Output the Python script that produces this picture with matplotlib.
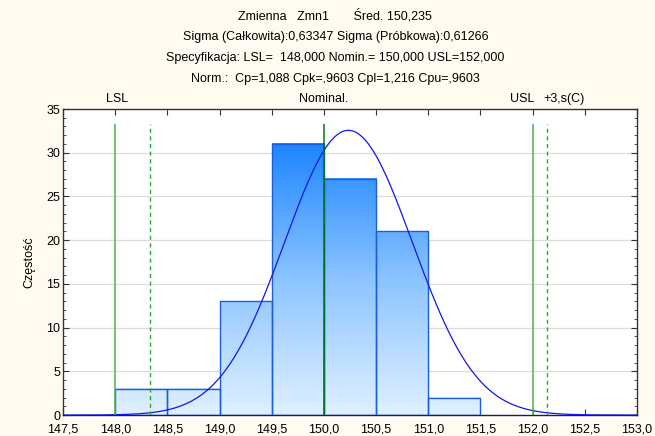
import numpy as np
import matplotlib
matplotlib.use("Agg")
import matplotlib.pyplot as plt
from matplotlib.colors import LinearSegmentedColormap
from matplotlib.ticker import MultipleLocator, FuncFormatter

plt.rcParams['font.family'] = ['Liberation Sans', 'DejaVu Sans']

# histogram data
bin_left = [148.0, 148.5, 149.0, 149.5, 150.0, 150.5, 151.0]
counts = [3, 3, 13, 31, 27, 21, 2]
bin_width = 0.5

# process statistics
mean = 150.235
sigma_total = 0.63347
sigma_sample = 0.61266
lsl, nominal, usl = 148.0, 150.0, 152.0
minus3s = mean - 3 * sigma_total
plus3s = mean + 3 * sigma_total

title_lines = [
    "Zmienna   Zmn1       Śred. 150,235",
    "Sigma (Całkowita):0,63347 Sigma (Próbkowa):0,61266",
    "Specyfikacja: LSL=  148,000 Nomin.= 150,000 USL=152,000",
    "Norm.:  Cp=1,088 Cpk=,9603 Cpl=1,216 Cpu=,9603",
]

bg = "#fffbf0"
fig = plt.figure(figsize=(6.55, 4.36), dpi=100, facecolor=bg)
ax = fig.add_axes([0.0962, 0.048, 0.8763, 0.702])
ax.set_facecolor("white")

xmin, xmax, ymin, ymax = 147.5, 153.0, 0, 35

# gradient bars
cmap = LinearSegmentedColormap.from_list("bars", ["#e0f0ff", "#8cc4ff", "#1e86ff"])
top = max(counts)
for x0, h in zip(bin_left, counts):
    grad = np.linspace(0, h, 200)[:, None]
    ax.imshow(grad, extent=(x0, x0 + bin_width, 0, h), origin="lower",
              cmap=cmap, vmin=0, vmax=top, aspect="auto", zorder=2,
              interpolation="bilinear")
ax.bar(bin_left, counts, width=bin_width, align="edge", facecolor="none",
       edgecolor="#1a5ed8", linewidth=1.0, zorder=3)

# normal curve
xs = np.linspace(xmin, xmax, 400)
ys = sum(counts) * bin_width / (sigma_sample * np.sqrt(2 * np.pi)) * \
    np.exp(-0.5 * ((xs - mean) / sigma_sample) ** 2)
ax.plot(xs, ys, color="#1414f0", linewidth=0.9, zorder=4)

# spec lines
line_top = 0.95 * ymax
ax.vlines([lsl, usl], 0, line_top, colors="#4cb04c", linewidth=1.1, zorder=5)
ax.vlines([nominal], 0, line_top, colors="#007a00", linewidth=1.1, zorder=5)
ax.vlines([minus3s, plus3s], 0, line_top, colors="#2ea82e", linewidth=1.0,
          linestyles=(0, (3, 2.5)), zorder=5)

ax.set_xlim(xmin, xmax)
ax.set_ylim(ymin, ymax)
ax.yaxis.set_major_locator(MultipleLocator(5))
ax.yaxis.set_minor_locator(MultipleLocator(1))
ax.xaxis.set_major_locator(MultipleLocator(0.5))
ax.xaxis.set_major_formatter(FuncFormatter(lambda v, p: f"{v:.1f}".replace(".", ",")))
ax.grid(axis="y", color="#dcdcdc", linewidth=0.9, zorder=0)
ax.set_axisbelow(True)
ax.tick_params(which="both", direction="in", top=True, right=True,
               labelsize=9, pad=2, color="#333333")
ax.tick_params(axis="x", pad=6)
ax.tick_params(which="major", length=4)
ax.tick_params(which="minor", length=2.5)
for s in ax.spines.values():
    s.set_color("#333333")
    s.set_linewidth(1.0)
ax.spines["bottom"].set_color("#1a1a60")
ax.set_ylabel("Częstość", fontsize=9, labelpad=8)

# labels above plot
ax.text(148.02, ymax + 0.5, "LSL", ha="center", va="bottom", fontsize=9)
ax.text(150.0, ymax + 0.5, "Nominal.", ha="center", va="bottom", fontsize=9)
ax.text(151.9, ymax + 0.5, "USL", ha="center", va="bottom", fontsize=9)
ax.text(152.1, ymax + 0.5, "+3,s(C)", ha="left", va="bottom", fontsize=9)

for i, t in enumerate(title_lines):
    fig.text(0.512, 0.965 - i * 0.049, t, ha="center", va="center", fontsize=9)

fig.savefig("out.png", dpi=100, facecolor=bg)
